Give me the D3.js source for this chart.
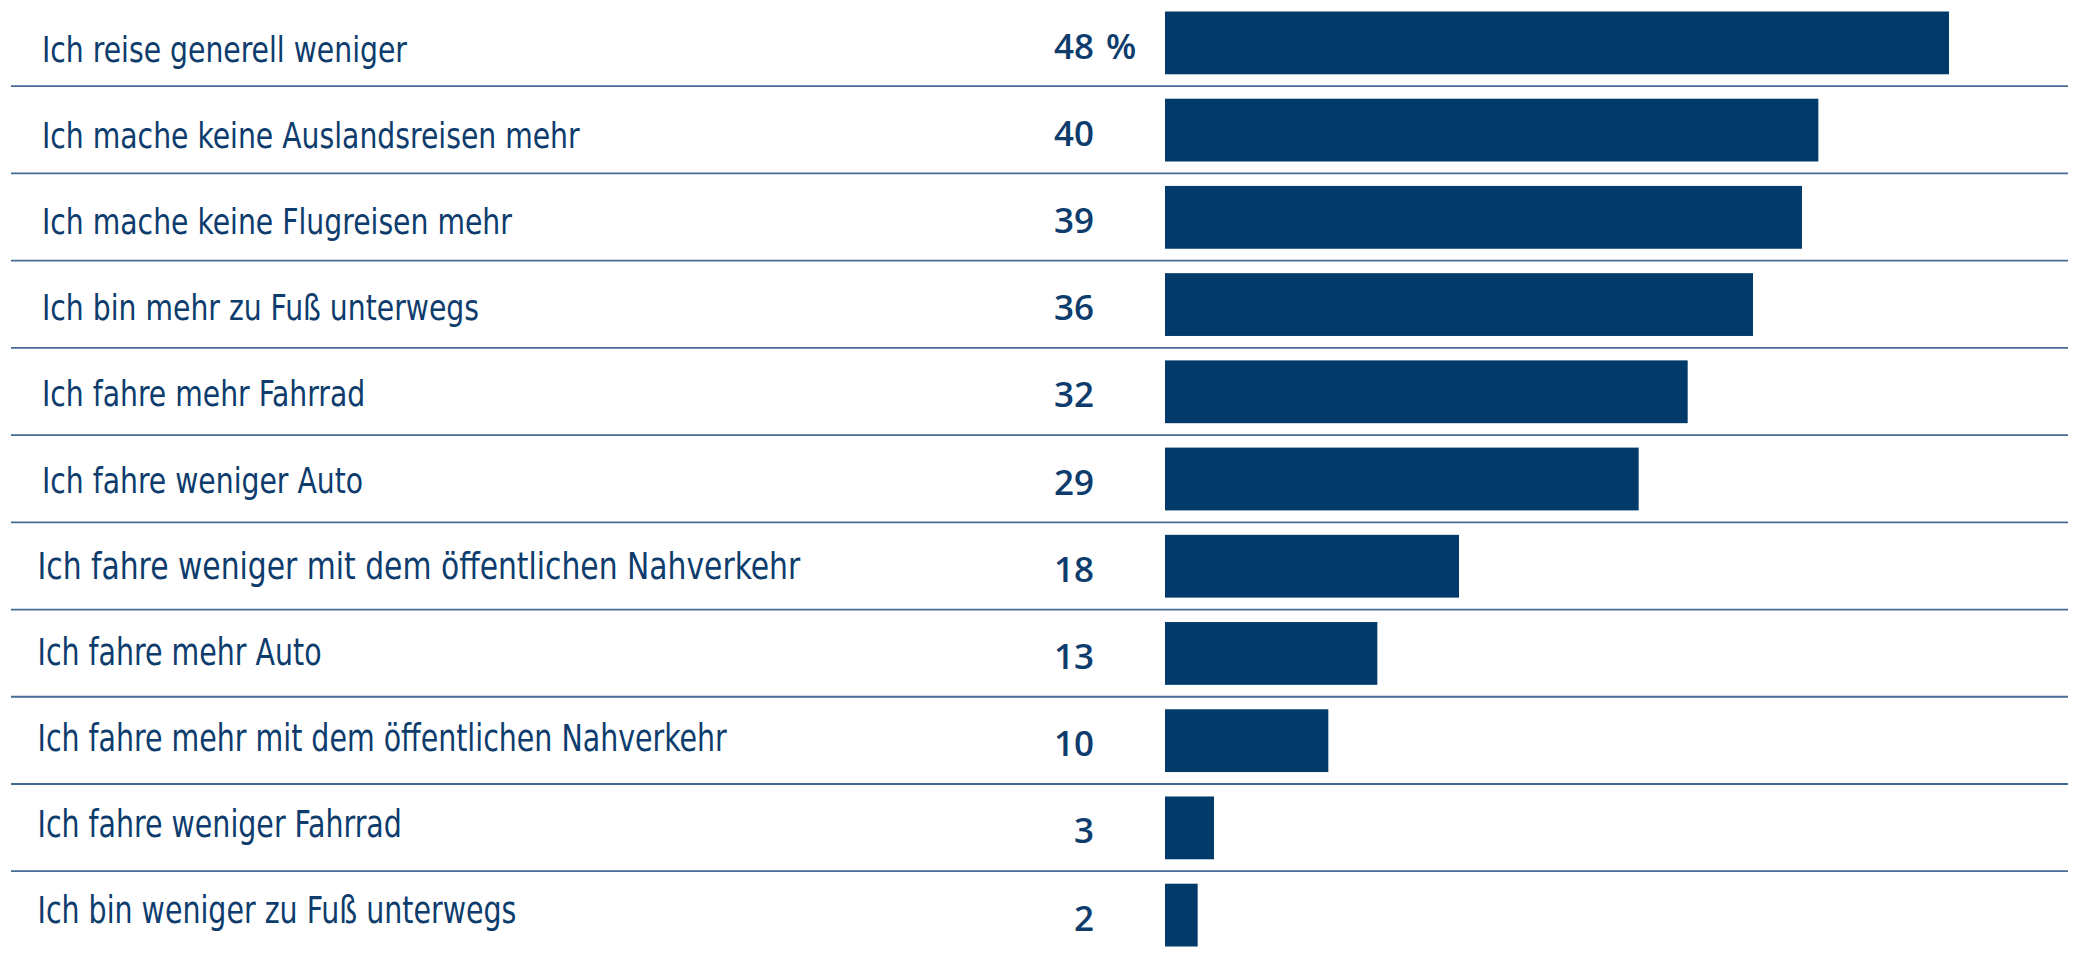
<!DOCTYPE html>
<html>
<head>
<meta charset="utf-8">
<script src="https://cdn.jsdelivr.net/npm/d3@7"></script>
<style>
  html, body { margin: 0; padding: 0; background: #ffffff; }
  svg { display: block; }
</style>
</head>
<body>
<svg id="chart" width="2076" height="953"></svg>
<script>
const categories = [
  "Ich reise generell weniger",
  "Ich mache keine Auslandsreisen mehr",
  "Ich mache keine Flugreisen mehr",
  "Ich bin mehr zu Fuß unterwegs",
  "Ich fahre mehr Fahrrad",
  "Ich fahre weniger Auto",
  "Ich fahre weniger mit dem öffentlichen Nahverkehr",
  "Ich fahre mehr Auto",
  "Ich fahre mehr mit dem öffentlichen Nahverkehr",
  "Ich fahre weniger Fahrrad",
  "Ich bin weniger zu Fuß unterwegs"
];
const values = [48, 40, 39, 36, 32, 29, 18, 13, 10, 3, 2];
const unitSuffix = "%";

const W = 2076, H = 953;
const barColor = "#023a6a";
const textColor = "#0d3c6d";
const lineColor = "#456b95";

const svg = d3.select("#chart");

// rows (full bands incl. separators)
const rowStep = 87.22;
const row = d3.scaleBand().domain(categories).range([-1.0, -1.0 + rowStep * categories.length]).padding(0);
// label baselines
const labelY = d3.scalePoint().domain(categories).range([62.3, 922.7]);
// value axis
const x = d3.scaleLinear().domain([0, 48]).range([1165, 1949]);

const barTop = 12.5, barH = 62.8;

// separators
svg.append("g").selectAll("line")
  .data(categories.slice(1))
  .join("line")
  .attr("x1", 11).attr("x2", 2068)
  .attr("y1", d => row(d)).attr("y2", d => row(d))
  .attr("stroke", lineColor).attr("stroke-width", 1.8);

// bars
svg.append("g").selectAll("rect")
  .data(categories)
  .join("rect")
  .attr("x", x(0))
  .attr("y", d => row(d) + barTop)
  .attr("width", (d, i) => x(values[i]) - x(0))
  .attr("height", barH)
  .attr("fill", barColor);

// labels
svg.append("g").selectAll("text")
  .data(categories)
  .join("text")
  .attr("transform", (d, i) => `translate(${i < 6 ? 42 : 37.5},${labelY(d)}) scale(${i < 6 ? 0.898 : (i === 6 ? 0.895 : 0.855)},1)`)
  .attr("font-family", "'DejaVu Sans Condensed', 'Liberation Sans Narrow', sans-serif")
  .attr("font-size", (d, i) => i < 6 ? 35 : 37)
  .attr("fill", textColor)
  .text(d => d);

// values
const valX = 1094;
const vg = svg.append("g")
  .attr("font-family", "'Open Sans', sans-serif")
  .attr("font-weight", 600)
  .attr("font-size", 35)
  .attr("fill", textColor);
vg.selectAll("text.val")
  .data(categories)
  .join("text")
  .attr("class", "val")
  .attr("x", valX)
  .attr("y", d => row(d) + 59.5)
  .attr("text-anchor", "end")
  .text((d, i) => values[i]);
vg.append("text")
  .attr("x", valX + 12)
  .attr("y", row(categories[0]) + 59.5)
  .attr("text-anchor", "start")
  .text(unitSuffix);
</script>
</body>
</html>
